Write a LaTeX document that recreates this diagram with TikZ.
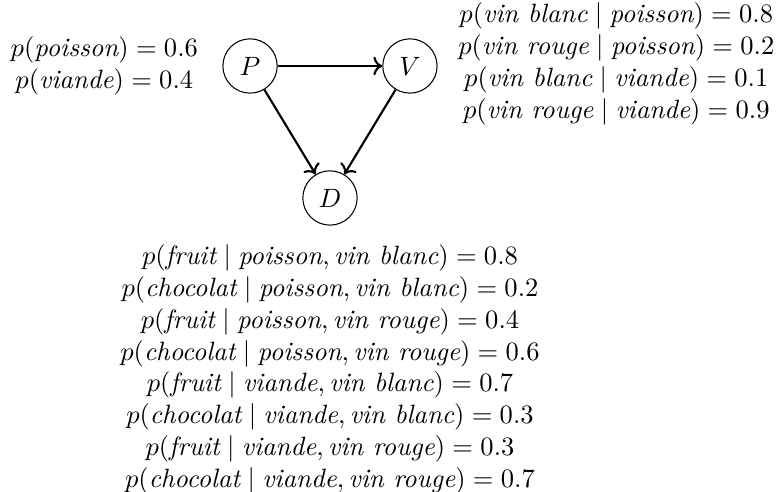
\documentclass[tikz,border=0pt]{standalone}
\usepackage{amsmath}
\usepackage{amssymb}
\usepackage{tikz}
\usetikzlibrary{arrows.meta,positioning}

\begin{document}
\begin{tikzpicture}[
  noeud/.style={draw,circle,minimum size=0.72cm,inner sep=0pt},
  fleche/.style={->,thick},
  tableau/.style={align=center}]
\useasboundingbox (-3.315,-5.636) rectangle (7.0,0.875);
\node[noeud] (P) at (0,0) {$P$};
\node[noeud] (V) at (2.12,0) {$V$};
\node[noeud] (D) at (1.06,-1.75) {$D$};
\draw[fleche] (P)--(V);
\draw[fleche] (P)--(D);
\draw[fleche] (V)--(D);
\node[tableau,left=2mm of P] (probP) {$p(\textit{poisson}) = 0.6$\\
  $p(\textit{viande}) = 0.4$};
\node[tableau,right=1.5mm of V,yshift=0.3mm] (probV) {$p(\textit{vin blanc} \mid \textit{poisson}) = 0.8$\\
  $p(\textit{vin rouge} \mid \textit{poisson}) = 0.2$\\
  $p(\textit{vin blanc} \mid \textit{viande}) = 0.1$\\
  $p(\textit{vin rouge} \mid \textit{viande}) = 0.9$};
\node[tableau,below=1.3mm of D] (probD) {$p(\textit{fruit} \mid \textit{poisson}, \textit{vin blanc}) = 0.8$\\
  $p(\textit{chocolat} \mid \textit{poisson}, \textit{vin blanc}) = 0.2$\\
  $p(\textit{fruit} \mid \textit{poisson}, \textit{vin rouge}) = 0.4$\\
  $p(\textit{chocolat} \mid \textit{poisson}, \textit{vin rouge}) = 0.6$\\
  $p(\textit{fruit} \mid \textit{viande}, \textit{vin blanc}) = 0.7$\\
  $p(\textit{chocolat} \mid \textit{viande}, \textit{vin blanc}) = 0.3$\\
  $p(\textit{fruit} \mid \textit{viande}, \textit{vin rouge}) = 0.3$\\
  $p(\textit{chocolat} \mid \textit{viande}, \textit{vin rouge}) = 0.7$};
\end{tikzpicture}
\end{document}
